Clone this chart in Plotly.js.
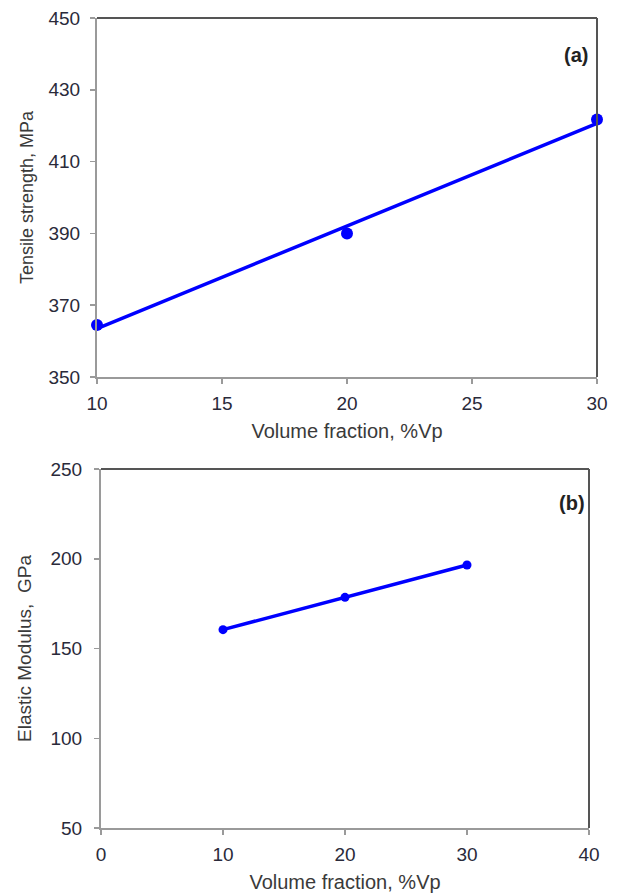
<!DOCTYPE html>
<html>
<head>
<meta charset="utf-8">
<script src="https://cdn.plot.ly/plotly-3.0.1.min.js"></script>
<style>html,body{margin:0;padding:0;background:#fff;}#chart{width:619px;height:893px;}</style>
</head>
<body>
<div id="chart"></div>
<script>
// Panel (a): tensile strength
const volFracA = [10, 20, 30];
const tensileStrength = [364.5, 390, 421.7];
// Panel (b): elastic modulus
const volFracB = [10, 20, 30];
const elasticModulus = [160.5, 178.5, 196.5];

const xTicksA = [10, 15, 20, 25, 30];
const yTicksA = [350, 370, 390, 410, 430, 450];
const xTicksB = [0, 10, 20, 30, 40];
const yTicksB = [50, 100, 150, 200, 250];

function linFit(xs, ys) {
  const n = xs.length;
  const mx = xs.reduce((a, b) => a + b, 0) / n;
  const my = ys.reduce((a, b) => a + b, 0) / n;
  let sxy = 0, sxx = 0;
  for (let i = 0; i < n; i++) { sxy += (xs[i] - mx) * (ys[i] - my); sxx += (xs[i] - mx) ** 2; }
  const m = sxy / sxx, c = my - m * mx;
  const x0 = Math.min(...xs), x1 = Math.max(...xs);
  return { x: [x0, x1], y: [m * x0 + c, m * x1 + c] };
}

const fitA = linFit(volFracA, tensileStrength);
const fitB = linFit(volFracB, elasticModulus);
const blue = '#0000ff';
const font = 'Liberation Sans, Arial, sans-serif';
const titleFontX = { family: font, size: 20, color: '#3a3a3a' };
const titleFontY = { family: font, size: 18, color: '#3a3a3a' };
const titleFontY2 = { family: font, size: 19, color: '#3a3a3a' };
const tickFont = { family: font, size: 19, color: '#2a2a3a' };

const traces = [
  { x: fitA.x, y: fitA.y, mode: 'lines', line: { color: blue, width: 3.5 }, xaxis: 'x', yaxis: 'y', hoverinfo: 'skip' },
  { x: volFracA, y: tensileStrength, mode: 'markers', marker: { color: blue, size: 12 }, xaxis: 'x', yaxis: 'y', cliponaxis: false },
  { x: fitB.x, y: fitB.y, mode: 'lines', line: { color: blue, width: 3.5 }, xaxis: 'x2', yaxis: 'y2', hoverinfo: 'skip' },
  { x: volFracB, y: elasticModulus, mode: 'markers', marker: { color: blue, size: 9 }, xaxis: 'x2', yaxis: 'y2' }
];

function ax(extra) {
  return Object.assign({
    showgrid: false, zeroline: false, showline: true, linecolor: '#9a9a9a', linewidth: 2,
    ticks: 'outside', ticklen: 5, tickwidth: 1.5, tickcolor: '#9a9a9a',
    tickfont: tickFont, automargin: false
  }, extra);
}

const layout = {
  width: 619, height: 893,
  margin: { l: 0, r: 0, t: 0, b: 0 },
  paper_bgcolor: '#fff', plot_bgcolor: '#fff',
  showlegend: false,
  font: { family: font, color: '#2a2a3a', size: 19 },
  xaxis: ax({
    domain: [97 / 619, 597 / 619], range: [10, 30], tickvals: xTicksA, anchor: 'y', ticklabelstandoff: 3,
    title: { text: 'Volume fraction, %Vp', font: titleFontX, standoff: 11 }
  }),
  yaxis: ax({
    domain: [1 - 377 / 893, 1 - 18 / 893], range: [350, 450], tickvals: yTicksA, anchor: 'x', ticklabelstandoff: 6,
    title: { text: 'Tensile strength, MPa', font: titleFontY, standoff: 10 }
  }),
  xaxis2: ax({
    domain: [101 / 619, 589 / 619], range: [0, 40], tickvals: xTicksB, anchor: 'y2', ticklabelstandoff: 3,
    title: { text: 'Volume fraction, %Vp', font: titleFontX, standoff: 11 }
  }),
  yaxis2: ax({
    domain: [1 - 828 / 893, 1 - 469 / 893], range: [50, 250], tickvals: yTicksB, anchor: 'x2', ticklabelstandoff: 8,
    title: { text: 'Elastic Modulus,  GPa', font: titleFontY2, standoff: 14 }
  }),
  shapes: [
    { type: 'line', xref: 'x domain', yref: 'y domain', x0: 0, x1: 1, y0: 1, y1: 1, line: { color: '#555', width: 2 } },
    { type: 'line', xref: 'x domain', yref: 'y domain', x0: 1, x1: 1, y0: 0, y1: 1, line: { color: '#555', width: 2 } },
    { type: 'line', xref: 'x2 domain', yref: 'y2 domain', x0: 0, x1: 1, y0: 1, y1: 1, line: { color: '#555', width: 2 } },
    { type: 'line', xref: 'x2 domain', yref: 'y2 domain', x0: 1, x1: 1, y0: 0, y1: 1, line: { color: '#555', width: 2 } }
  ],
  annotations: [
    { text: '<b>(a)</b>', xref: 'x domain', yref: 'y domain', x: 0.958, y: 0.897, showarrow: false, xanchor: 'center', yanchor: 'middle', font: { family: font, size: 20, color: '#222' } },
    { text: '<b>(b)</b>', xref: 'x2 domain', yref: 'y2 domain', x: 0.965, y: 0.905, showarrow: false, xanchor: 'center', yanchor: 'middle', font: { family: font, size: 20, color: '#222' } }
  ]
};

Plotly.newPlot('chart', traces, layout, { displayModeBar: false, staticPlot: true });
</script>
</body>
</html>
